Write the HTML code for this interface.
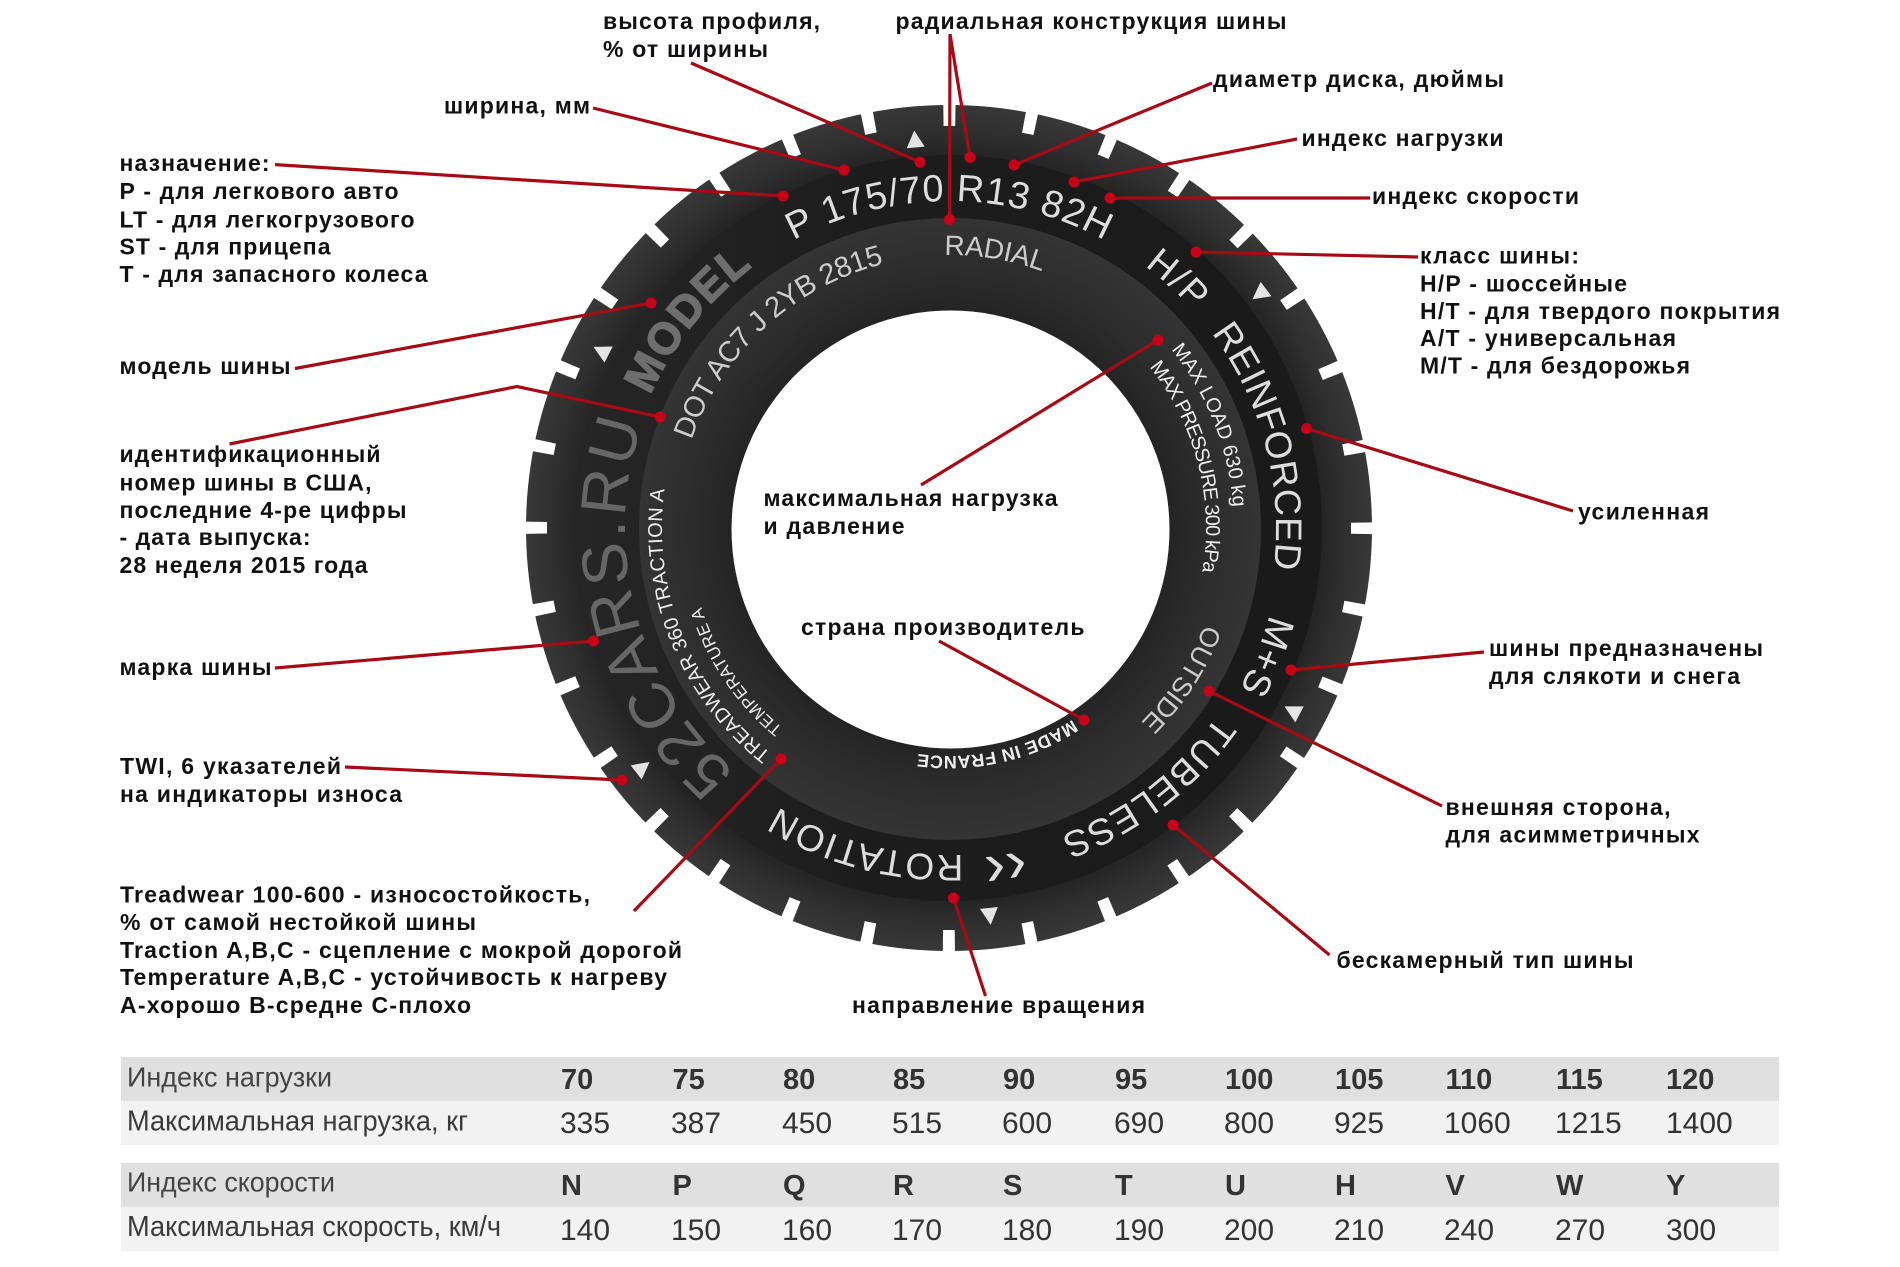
<!DOCTYPE html>
<html><head><meta charset="utf-8"><style>
html,body{margin:0;padding:0;background:#fff;width:1900px;height:1267px;overflow:hidden}
svg{display:block}
.l{font:bold 23px "Liberation Sans","DejaVu Sans",sans-serif;fill:#111}
.t{font-family:"Liberation Sans",sans-serif;fill:#ddd;text-anchor:middle}
.r{font:29px "Liberation Sans",sans-serif;fill:#3a3a3a}
.h{font:28px "Liberation Sans",sans-serif;fill:#444}
.b{font:bold 29px "Liberation Sans",sans-serif;fill:#333}
.n{font:30px "Liberation Sans",sans-serif;fill:#333}
.w{stroke:#a60a14;stroke-width:3.2;fill:none}
.d{fill:#c80018}
</style></head><body>
<svg width="1900" height="1267" viewBox="0 0 1900 1267" xmlns="http://www.w3.org/2000/svg">
<defs>
<radialGradient id="tg" gradientUnits="userSpaceOnUse" cx="949" cy="528" r="423">
<stop offset="0.87" stop-color="#222"/><stop offset="0.93" stop-color="#2e2e2e"/><stop offset="1" stop-color="#383838"/>
</radialGradient>
<radialGradient id="sg" gradientUnits="userSpaceOnUse" cx="950" cy="529" r="312">
<stop offset="0.70" stop-color="#242424"/><stop offset="0.82" stop-color="#2c2c2c"/><stop offset="1" stop-color="#343434"/>
</radialGradient>
<linearGradient id="bg" x1="0" y1="0" x2="1" y2="0"><stop offset="0" stop-color="#262626"/><stop offset="0.4" stop-color="#1c1c1c"/><stop offset="1" stop-color="#1a1a1a"/></linearGradient>
<path id="p332" d="M949 860A332 332 0 1 1 949 196A332 332 0 1 1 949 860"/>
<path id="p327" d="M949 855A327 327 0 1 1 949 201A327 327 0 1 1 949 855"/>
<path id="p324" d="M949 852A324 324 0 1 1 949 204A324 324 0 1 1 949 852"/>
<path id="p273" d="M949 801A273 273 0 1 1 949 255A273 273 0 1 1 949 801"/>
<path id="p272" d="M949 800A272 272 0 1 1 949 256A272 272 0 1 1 949 800"/>
<path id="p285" d="M949 813A285 285 0 1 1 949 243A285 285 0 1 1 949 813"/>
<path id="p257" d="M949 785A257 257 0 1 1 949 271A257 257 0 1 1 949 785"/>
<path id="p228" d="M949 756A228 228 0 1 1 949 300A228 228 0 1 1 949 756"/>
<path id="p287" d="M949 815A287 287 0 1 1 949 241A287 287 0 1 1 949 815"/>
<path id="p260" d="M949 788A260 260 0 1 1 949 268A260 260 0 1 1 949 788"/>
</defs>

<!-- tyre -->
<circle cx="949" cy="528" r="423" fill="url(#tg)"/>
<circle cx="949" cy="528" r="413" fill="none" stroke="#fff" stroke-width="22" stroke-dasharray="12 69.1" stroke-dashoffset="6"/>
<circle cx="949" cy="528" r="373" fill="url(#bg)"/>
<circle cx="950" cy="529" r="311" fill="url(#sg)"/>
<circle cx="950.5" cy="529.5" r="219" fill="#fff"/>

<!-- triangles -->
<g fill="#e4e4e4">
<polygon points="949,129 940,146 958,146" transform="rotate(-5 949 528)"/>
<polygon points="949,148 940,131 958,131" transform="rotate(53 949 528)"/>
<polygon points="949,148 940,131 958,131" transform="rotate(118 949 528)"/>
<polygon points="949,129 940,146 958,146" transform="rotate(174 949 528)"/>
<polygon points="949,148 940,131 958,131" transform="rotate(232 949 528)"/>
<polygon points="949,129 940,146 958,146" transform="rotate(297 949 528)"/>
</g>

<!-- tyre text -->
<g transform="rotate(0 949 528)"><text class="t" font-size="38" textLength="324"><textPath href="#p327" startOffset="50%">P 175/70 R13 82H</textPath></text></g>
<g transform="rotate(42.5 949 528)"><text class="t" font-size="37" textLength="66"><textPath href="#p327" startOffset="50%">H/P</textPath></text></g>
<g transform="rotate(75.3 949 528)"><text class="t" font-size="37" textLength="250"><textPath href="#p327" startOffset="50%">REINFORCED</textPath></text></g>
<g transform="rotate(112 949 528)"><text class="t" font-size="38" textLength="80"><textPath href="#p332" startOffset="50%">M+S</textPath></text></g>
<g transform="rotate(142.5 949 528)"><text class="t" font-size="37" textLength="200"><textPath href="#p327" startOffset="50%">TUBELESS</textPath></text></g>
<g transform="rotate(194.5 949 528)"><text class="t" font-size="37" textLength="194"><textPath href="#p327" startOffset="50%">ROTATION</textPath></text></g>
<g transform="rotate(170.5 949 528)"><text class="t" font-size="62"><textPath href="#p327" startOffset="50%">‹‹</textPath></text></g>
<g transform="rotate(255 949 528)"><text class="t" font-size="64" style="fill:#666" textLength="382"><textPath href="#p324" startOffset="50%">52CARS.RU</textPath></text></g>
<g transform="rotate(308.5 949 528)"><text class="t" font-size="44" font-weight="bold" style="fill:#6e6e6e;stroke:#6e6e6e;stroke-width:1.5" textLength="166"><textPath href="#p327" startOffset="50%">MODEL</textPath></text></g>
<g transform="rotate(9.5 949 528)"><text class="t" font-size="28" style="fill:#ccc" textLength="100"><textPath href="#p273" startOffset="50%">RADIAL</textPath></text></g>
<g transform="rotate(317.5 949 528)"><text class="t" font-size="29" style="fill:#ccc" textLength="272"><textPath href="#p272" startOffset="50%">DOT AC7 J 2YB 2815</textPath></text></g>
<g transform="rotate(68.5 949 528)"><text class="t" font-size="20" style="fill:#eee" textLength="172"><textPath href="#p285" startOffset="50%">MAX LOAD 630 kg</textPath></text></g>
<g transform="rotate(75.5 949 528)"><text class="t" font-size="20" style="fill:#eee" textLength="218"><textPath href="#p257" startOffset="50%">MAX PRESSURE 300 kPa</textPath></text></g>
<g transform="rotate(123 949 528)"><text class="t" font-size="27" style="fill:#ccc" textLength="118"><textPath href="#p273" startOffset="50%">OUTSIDE</textPath></text></g>
<g transform="rotate(167.5 949 528)"><text class="t" font-size="18" font-weight="bold" style="fill:#eee" textLength="162"><textPath href="#p228" startOffset="50%">MADE IN FRANCE</textPath></text></g>
<g transform="rotate(248 949 528)"><text class="t" font-size="20" style="fill:#eee" textLength="298"><textPath href="#p287" startOffset="50%">TREADWEAR 360 TRACTION A</textPath></text></g>
<g transform="rotate(236 949 528)"><text class="t" font-size="17" style="fill:#eee" textLength="148"><textPath href="#p260" startOffset="50%">TEMPERATURE A</textPath></text></g>

<!-- leader lines -->
<g class="w">
<path d="M691 63L920 162"/>
<path d="M950 34L949.5 219.5"/>
<path d="M950 34L970 157.5"/>
<path d="M1212 83L1014 165"/>
<path d="M1297 139L1074 182"/>
<path d="M1370 198L1110 198"/>
<path d="M1418 257L1196 252"/>
<path d="M1573 511L1306.5 428.5"/>
<path d="M1484 652L1291 670"/>
<path d="M1442 806L1209 691"/>
<path d="M1329.5 955L1173 825"/>
<path d="M985.5 996L953.5 898"/>
<path d="M939 641L1084 720"/>
<path d="M921 485L1158 340"/>
<path d="M634 911L781 759"/>
<path d="M345 767L622 780"/>
<path d="M275 668L593.5 641"/>
<path d="M229.5 444L517 386.5L660 417"/>
<path d="M295 368.5L651 303"/>
<path d="M275 164.6L783 196"/>
<path d="M593 108L844 170"/>
</g>
<g class="d">
<circle cx="920" cy="162" r="5.5"/><circle cx="949.5" cy="219.5" r="5.5"/><circle cx="970" cy="157.5" r="5.5"/>
<circle cx="1014" cy="165" r="5.5"/><circle cx="1074" cy="182" r="5.5"/><circle cx="1110" cy="198" r="5.5"/>
<circle cx="1196" cy="252" r="5.5"/><circle cx="1306.5" cy="428.5" r="5.5"/><circle cx="1291" cy="670" r="5.5"/>
<circle cx="1209" cy="691" r="5.5"/><circle cx="1173" cy="825" r="5.5"/><circle cx="953.5" cy="898" r="5.5"/>
<circle cx="1084" cy="720" r="5.5"/><circle cx="1158" cy="340" r="5.5"/><circle cx="781" cy="759" r="5.5"/>
<circle cx="622" cy="780" r="5.5"/><circle cx="593.5" cy="641" r="5.5"/><circle cx="660" cy="417" r="5.5"/>
<circle cx="651" cy="303" r="5.5"/><circle cx="783" cy="196" r="5.5"/><circle cx="844" cy="170" r="5.5"/>
</g>

<!-- labels -->
<g class="l">
<text x="603" y="29" textLength="217">высота профиля,</text>
<text x="603" y="57" textLength="165">% от ширины</text>
<text x="895.5" y="29" textLength="391">радиальная конструкция шины</text>
<text x="1213" y="87" textLength="291">диаметр диска, дюймы</text>
<text x="1301.5" y="146" textLength="202">индекс нагрузки</text>
<text x="1372" y="204" textLength="207">индекс скорости</text>
<text x="1420" y="263.5" textLength="159">класс шины:</text>
<text x="1420" y="291.5" textLength="207">Н/Р - шоссейные</text>
<text x="1420" y="319" textLength="360">Н/Т - для твердого покрытия</text>
<text x="1420" y="346" textLength="256">А/Т - универсальная</text>
<text x="1420" y="373.5" textLength="270">М/Т - для бездорожья</text>
<text x="1578" y="519.5" textLength="131">усиленная</text>
<text x="1489" y="656" textLength="274">шины предназначены</text>
<text x="1489" y="684" textLength="251">для слякоти и снега</text>
<text x="1445.5" y="815" textLength="225">внешняя сторона,</text>
<text x="1445.5" y="842.5" textLength="254">для асимметричных</text>
<text x="1336.5" y="968" textLength="297">бескамерный тип шины</text>
<text x="852" y="1013" textLength="293">направление вращения</text>
<text x="119.5" y="171" textLength="150">назначение:</text>
<text x="119.5" y="199" textLength="279">Р - для легкового авто</text>
<text x="119.5" y="227.5" textLength="295">LT - для легкогрузового</text>
<text x="119.5" y="254.5" textLength="211">ST - для прицепа</text>
<text x="119.5" y="282" textLength="308">Т - для запасного колеса</text>
<text x="444" y="113.5" textLength="146">ширина, мм</text>
<text x="119.5" y="374" textLength="171">модель шины</text>
<text x="119.5" y="462" textLength="261">идентификационный</text>
<text x="119.5" y="490.5" textLength="252">номер шины в США,</text>
<text x="119.5" y="518" textLength="287">последние 4-ре цифры</text>
<text x="119.5" y="545" textLength="191">- дата выпуска:</text>
<text x="119.5" y="573" textLength="248">28 неделя 2015 года</text>
<text x="119.5" y="675" textLength="152">марка шины</text>
<text x="120" y="774" textLength="221">TWI, 6 указателей</text>
<text x="120" y="802" textLength="282">на индикаторы износа</text>
<text x="120" y="902.5" textLength="470">Treadwear 100-600 - износостойкость,</text>
<text x="120" y="930" textLength="356">% от самой нестойкой шины</text>
<text x="120" y="958" textLength="562">Traction A,B,C - сцепление с мокрой дорогой</text>
<text x="120" y="985" textLength="547">Temperature A,B,C - устойчивость к нагреву</text>
<text x="120" y="1013" textLength="351">А-хорошо В-средне С-плохо</text>
<text x="763.5" y="506" textLength="294">максимальная нагрузка</text>
<text x="763.5" y="534" textLength="141">и давление</text>
<text x="801" y="635" textLength="283.5">страна производитель</text>
</g>

<!-- tables -->
<rect x="121" y="1057" width="1658" height="44" fill="#e0e0e0"/>
<rect x="121" y="1101" width="1658" height="44" fill="#f2f2f2"/>
<rect x="121" y="1163" width="1658" height="44" fill="#e0e0e0"/>
<rect x="121" y="1207" width="1658" height="44" fill="#f2f2f2"/>
<text class="h" x="127" y="1086.5" textLength="205" lengthAdjust="spacingAndGlyphs">Индекс нагрузки</text>
<text class="r" x="127" y="1130.5" textLength="341" lengthAdjust="spacingAndGlyphs">Максимальная нагрузка, кг</text>
<text class="h" x="127" y="1191.5" textLength="208" lengthAdjust="spacingAndGlyphs">Индекс скорости</text>
<text class="r" x="127" y="1236" textLength="374" lengthAdjust="spacingAndGlyphs">Максимальная скорость, км/ч</text>
<g class="b">
<text x="561" y="1089">70</text><text x="672.5" y="1089">75</text><text x="783" y="1089">80</text><text x="893" y="1089">85</text><text x="1003" y="1089">90</text><text x="1115" y="1089">95</text><text x="1225" y="1089">100</text><text x="1335" y="1089">105</text><text x="1445.5" y="1089">110</text><text x="1556" y="1089">115</text><text x="1666" y="1089">120</text>
<text x="561" y="1195">N</text><text x="672.5" y="1195">P</text><text x="783" y="1195">Q</text><text x="893" y="1195">R</text><text x="1003" y="1195">S</text><text x="1115" y="1195">T</text><text x="1225" y="1195">U</text><text x="1335" y="1195">H</text><text x="1445.5" y="1195">V</text><text x="1556" y="1195">W</text><text x="1666" y="1195">Y</text>
</g>
<g class="n">
<text x="560" y="1133">335</text><text x="671" y="1133">387</text><text x="782" y="1133">450</text><text x="892" y="1133">515</text><text x="1002" y="1133">600</text><text x="1114" y="1133">690</text><text x="1224" y="1133">800</text><text x="1334" y="1133">925</text><text x="1444" y="1133">1060</text><text x="1555" y="1133">1215</text><text x="1666" y="1133">1400</text>
<text x="560" y="1240">140</text><text x="671" y="1240">150</text><text x="782" y="1240">160</text><text x="892" y="1240">170</text><text x="1002" y="1240">180</text><text x="1114" y="1240">190</text><text x="1224" y="1240">200</text><text x="1334" y="1240">210</text><text x="1444" y="1240">240</text><text x="1555" y="1240">270</text><text x="1666" y="1240">300</text>
</g>
</svg>
</body></html>
